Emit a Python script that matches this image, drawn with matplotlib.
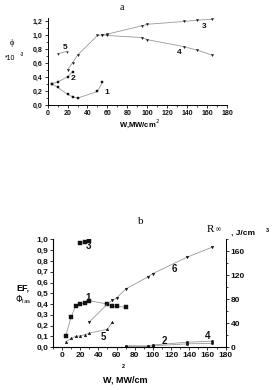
import matplotlib
matplotlib.use("Agg")
import matplotlib.pyplot as plt
from matplotlib.ticker import FuncFormatter, MultipleLocator

# ---- panel a: phi * 10^-3 vs W ----
A1_W = [4, 10, 20, 25, 30, 50, 55]
A1_PHI = [0.31, 0.26, 0.16, 0.125, 0.105, 0.20, 0.33]
A2_W = [4, 10, 20, 25]
A2_PHI = [0.31, 0.335, 0.41, 0.48]
A3_W = [20, 25, 30, 50, 55, 60, 95, 100, 137, 150, 165]
A3_PHI = [0.51, 0.61, 0.72, 1.0, 1.01, 1.02, 1.14, 1.16, 1.2, 1.22, 1.23]
A4_W = [55, 60, 95, 100, 137, 150, 165]
A4_PHI = [1.01, 1.0, 0.97, 0.94, 0.84, 0.79, 0.72]
A5_W = [10, 19]
A5_PHI = [0.74, 0.77]

# ---- panel b: EF / Phi_las (left) and R (right) vs W ----
B1_W = [4, 10, 15, 20, 25, 30, 50, 55, 60, 70]
B1_Y = [0.10, 0.28, 0.38, 0.40, 0.41, 0.43, 0.40, 0.38, 0.38, 0.37]
B2_W = [70, 95, 100, 137, 165]
B2_Y = [0.005, 0.005, 0.012, 0.03, 0.035]
B3_W = [20, 25, 30]
B3_Y = [0.97, 0.98, 0.99]
B4_W = [70, 95, 100, 137, 165]
B4_Y = [0.012, 0.012, 0.02, 0.045, 0.055]
B5_W = [4, 10, 15, 20, 25, 30, 50, 55]
B5_Y = [0.05, 0.08, 0.10, 0.105, 0.115, 0.13, 0.165, 0.23]
B6_W = [30, 50, 55, 60, 70, 95, 100, 137, 165]
B6_R = [42, 72, 78, 82, 97, 118, 123, 150, 167]

LINE = "#999999"
INK = "#111111"
SANS = "Liberation Sans"
SERIF = "Liberation Serif"

W_PX, H_PX = 280, 390


def px(x, y):
    return x / W_PX, 1 - y / H_PX


def comma(dec):
    return FuncFormatter(lambda v, _: f"{v:.{dec}f}".replace(".", ","))


def style_ticks(ax, size):
    ax.tick_params(direction="out", length=2.5, width=0.6, pad=1,
                   labelsize=size, colors=INK)
    ax.tick_params(which="minor", direction="out", length=1.5, width=0.5)
    for lab in ax.get_xticklabels() + ax.get_yticklabels():
        lab.set_fontweight("bold")
        lab.set_fontfamily(SANS)


def series(ax, x, y, marker, ms):
    ax.plot(x, y, color=LINE, lw=0.6, marker=marker, ms=ms,
            mfc=INK, mec=INK, mew=0.3)


fig = plt.figure(figsize=(2.8, 3.9), dpi=100)

# ============ panel a ============
ax = fig.add_axes([0.170, 0.7295, 0.641, 0.2244])
series(ax, A1_W, A1_PHI, "s", 1.8)
series(ax, A2_W, A2_PHI, "s", 1.8)
series(ax, A3_W, A3_PHI, "v", 1.5)
series(ax, A4_W, A4_PHI, "v", 1.5)
series(ax, A5_W, A5_PHI, "v", 1.2)
ax.set_xlim(0, 180)
ax.set_ylim(0, 1.25)
ax.xaxis.set_major_locator(MultipleLocator(20))
ax.xaxis.set_minor_locator(MultipleLocator(10))
ax.yaxis.set_major_locator(MultipleLocator(0.2))
ax.yaxis.set_minor_locator(MultipleLocator(0.1))
ax.yaxis.set_major_formatter(comma(1))
for s in ("top", "right"):
    ax.spines[s].set_visible(False)
for s in ("left", "bottom"):
    ax.spines[s].set_linewidth(0.7)
style_ticks(ax, 5)

lab = dict(fontsize=6, fontweight="bold", family=SANS, color=INK)
ax.text(57, 0.17, "1", **lab)
ax.text(23, 0.36, "2", **lab)
ax.text(155, 1.11, "3", **lab)
ax.text(130, 0.74, "4", **lab)
ax.text(15, 0.81, "5", **lab)

fig.text(*px(122, 7), "a", fontsize=7, family=SERIF, ha="center", va="center")
fig.text(*px(139, 124), "W,MW/cm$^2$", fontsize=5.5, fontweight="bold",
         family=SANS, ha="center", va="center")
fig.text(*px(12, 43), "\u03d5", fontsize=6, family=SERIF, ha="center", va="center")
fig.text(*px(10, 58), "*10", fontsize=5, family=SANS, ha="center", va="center")
fig.text(*px(22, 55), "-3", fontsize=3.5, family=SANS, ha="center", va="center")

# ============ panel b ============
bx = fig.add_axes([0.189, 0.110, 0.617, 0.276])
series(bx, B1_W, B1_Y, "s", 2.2)
series(bx, B2_W, B2_Y, "o", 1.8)
series(bx, B3_W, B3_Y, "s", 2.2)
series(bx, B4_W, B4_Y, "o", 1.8)
series(bx, B5_W, B5_Y, "^", 1.9)
bx.set_xlim(-10, 180)
bx.set_ylim(0, 1.0)
bx.xaxis.set_major_locator(MultipleLocator(20))
bx.xaxis.set_minor_locator(MultipleLocator(10))
bx.yaxis.set_major_locator(MultipleLocator(0.1))
bx.yaxis.set_major_formatter(comma(1))
bx.spines["top"].set_visible(False)
for s in ("left", "bottom", "right"):
    bx.spines[s].set_linewidth(0.7)
style_ticks(bx, 6)

rx = bx.twinx()
series(rx, B6_W, B6_R, "v", 1.9)
rx.set_ylim(0, 180)
rx.yaxis.set_major_locator(MultipleLocator(40))
rx.yaxis.set_minor_locator(MultipleLocator(20))
rx.spines["top"].set_visible(False)
rx.spines["right"].set_linewidth(0.7)
style_ticks(rx, 6)

lab = dict(fontsize=7, fontweight="bold", family=SANS, color=INK)
bx.text(26, 0.43, "1", **lab)
bx.text(26, 0.91, "3", **lab)
bx.text(43, 0.07, "5", **lab)
bx.text(110, 0.03, "2", **lab)
bx.text(157, 0.075, "4", **lab)
rx.text(121, 126, "6", **lab)

fig.text(*px(141, 222), "b", fontsize=8, family=SERIF, ha="center", va="center")
fig.text(*px(210, 229), "R", fontsize=8, family=SERIF, ha="center", va="center")
fig.text(*px(218, 230), "\u221e", fontsize=5, family=SERIF, ha="center", va="center")
fig.text(*px(243, 233), ", J/cm", fontsize=6, fontweight="bold",
         family=SANS, ha="center", va="center")
fig.text(*px(267, 230), "3", fontsize=4, fontweight="bold",
         family=SANS, ha="center", va="center")
fig.text(*px(23, 288), "EF,", fontsize=6.5, fontweight="bold",
         family=SANS, ha="center", va="center")
fig.text(*px(23, 300), "$\\Phi_{\\rm las}$", fontsize=6, family=SERIF,
         ha="center", va="center")
fig.text(*px(123, 367), "2", fontsize=4, fontweight="bold",
         family=SANS, ha="center", va="center")
fig.text(*px(125, 380), "W, MW/cm", fontsize=6.5, fontweight="bold",
         family=SANS, ha="center", va="center")

fig.savefig("out.png", dpi=100)
plt.close(fig)
